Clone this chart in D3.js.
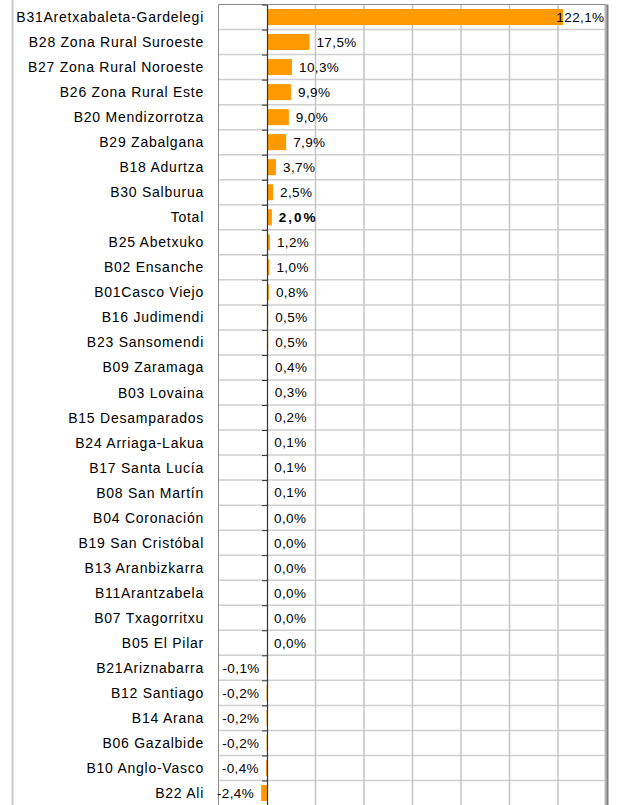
<!DOCTYPE html>
<html><head><meta charset="utf-8">
<script src="https://cdn.jsdelivr.net/npm/d3@7"></script>
<style>
html,body{margin:0;padding:0;background:#fff;}
svg{display:block;font-family:"Liberation Sans",Arial,sans-serif;}
</style></head>
<body>
<svg id="chart" width="617" height="805"></svg>
<script>
const categories = [
  "B31Aretxabaleta-Gardelegi","B28 Zona Rural Suroeste","B27 Zona Rural Noroeste","B26 Zona Rural Este",
  "B20 Mendizorrotza","B29 Zabalgana","B18 Adurtza","B30 Salburua","Total","B25 Abetxuko","B02 Ensanche",
  "B01Casco Viejo","B16 Judimendi","B23 Sansomendi","B09 Zaramaga","B03 Lovaina","B15 Desamparados",
  "B24 Arriaga-Lakua","B17 Santa Lucía","B08 San Martín","B04 Coronación","B19 San Cristóbal",
  "B13 Aranbizkarra","B11Arantzabela","B07 Txagorritxu","B05 El Pilar","B21Ariznabarra","B12 Santiago",
  "B14 Arana","B06 Gazalbide","B10 Anglo-Vasco","B22 Ali"
];
const values = [
  122.1,17.5,10.3,9.9,9.0,7.9,3.7,2.5,2.0,1.2,1.0,0.8,0.5,0.5,0.4,0.3,0.2,0.1,0.1,0.1,
  0.0,0.0,0.0,0.0,0.0,0.0,-0.1,-0.2,-0.2,-0.2,-0.4,-2.4
];
const xTicks = [-20,0,20,40,60,80,100,120,140];

(function(){
const svg = d3.select("#chart");
const pl = 218.5, pr = 606.5, pt = 4.5, pb = 805.5;
const x = d3.scaleLinear().domain([-20,140]).range([pl,pr]);
const y = d3.scaleBand().domain(categories).range([pt,pb]).paddingInner(0.36).paddingOuter(0.18);
const fmt = v => v.toFixed(1).replace(".", ",") + "%";

// outer left border
svg.append("line").attr("x1",12.5).attr("x2",12.5).attr("y1",0).attr("y2",805)
  .attr("stroke","#c8c8c8").attr("stroke-width",2);

// horizontal gridlines at band boundaries
const g = svg.append("g");
categories.forEach((c,i)=>{
  const yy = pt + i*(pb-pt)/categories.length;
  if(i>0) g.append("line").attr("x1",pl).attr("x2",pr).attr("y1",yy).attr("y2",yy)
    .attr("stroke","#cfcfcf").attr("stroke-width",1.5);
});
// vertical gridlines
xTicks.forEach(t=>{
  if(t===0) return;
  g.append("line").attr("x1",x(t)).attr("x2",x(t)).attr("y1",pt).attr("y2",pb)
    .attr("stroke", (t===-20)?"#8a8a8a":"#c4c4c4").attr("stroke-width",(t===-20)?1:1.5);
});
// top border
svg.append("line").attr("x1",pl).attr("x2",pr).attr("y1",pt).attr("y2",pt)
  .attr("stroke","#8a8a8a").attr("stroke-width",1);
// right border with shadow
svg.append("line").attr("x1",pr-1).attr("x2",pr-1).attr("y1",pt).attr("y2",pb)
  .attr("stroke","#b8b8b8").attr("stroke-width",2);
svg.append("line").attr("x1",pr+1).attr("x2",pr+1).attr("y1",pt).attr("y2",pb)
  .attr("stroke","#808080").attr("stroke-width",2);

// bars
svg.append("g").selectAll("rect").data(values).join("rect")
  .attr("x",(d)=>x(Math.min(0,d)))
  .attr("width",(d)=>Math.abs(x(d)-x(0)))
  .attr("y",(d,i)=>y(categories[i]))
  .attr("height",y.bandwidth())
  .attr("fill","#ff9900");

// zero axis with ticks
const yAxis = d3.axisLeft(d3.scaleLinear().domain([0,categories.length]).range([pt,pb]))
  .tickValues(d3.range(0,categories.length+1)).tickSize(5).tickSizeOuter(0).tickFormat("");
const ax = svg.append("g").attr("transform",`translate(${x(0)},0)`).call(yAxis);
ax.selectAll("path").attr("stroke","#333").attr("stroke-width",1.2);
ax.selectAll(".tick line").attr("stroke","#333");

// category labels
svg.append("g").selectAll("text").data(categories).join("text")
  .attr("x",204).attr("y",d=>y(d)+y.bandwidth()/2)
  .attr("dy","0.36em").attr("text-anchor","end")
  .attr("font-size",14).attr("letter-spacing",0.75).attr("fill","#000")
  .text(d=>d);

// value labels
svg.append("g").selectAll("text").data(values).join("text")
  .attr("y",(d,i)=>y(categories[i])+y.bandwidth()/2)
  .attr("dy","0.36em")
  .attr("font-size",13.5)
  .attr("letter-spacing",(d,i)=>categories[i]==="Total"?2:0.4)
  .attr("font-weight",(d,i)=>categories[i]==="Total"?"bold":"normal")
  .attr("fill","#000")
  .attr("text-anchor",d=>d<0?"end":"start")
  .attr("x",d=>d<0 ? x(d)-7 : x(d)+7)
  .text(fmt)
  .each(function(d){
    if(d>=0){
      const w=this.getComputedTextLength();
      const xx=+this.getAttribute("x");
      if(xx+w>pr-2) this.setAttribute("x", pr-2-w);
    }
  });
})();
</script>
</body></html>
